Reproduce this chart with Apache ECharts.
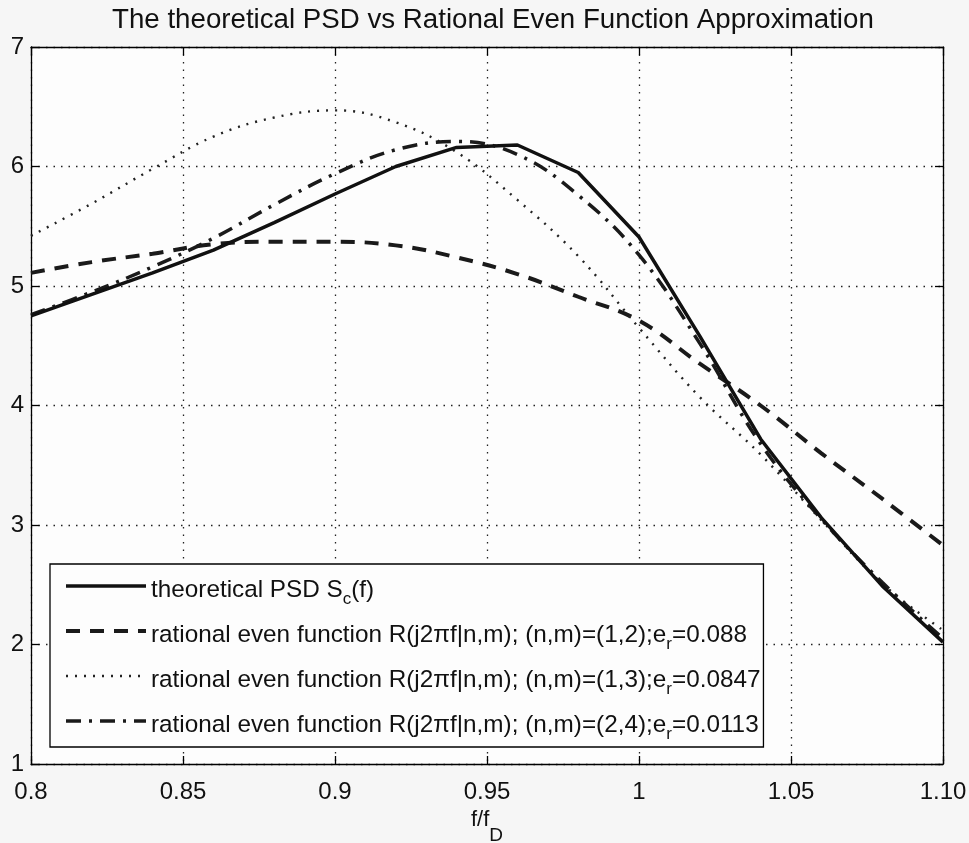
<!DOCTYPE html>
<html>
<head>
<meta charset="utf-8">
<script src="https://cdn.jsdelivr.net/npm/echarts@6/dist/echarts.min.js"></script>
<style>
html,body{margin:0;padding:0;background:#f6f6f6;}
#chart{width:969px;height:843px;}
</style>
</head>
<body>
<div id="chart"></div>
<script>
// ---- data ----
var freq = [0.80, 0.82, 0.84, 0.86, 0.88, 0.90, 0.92, 0.94, 0.96, 0.98, 1.00, 1.02, 1.04, 1.06, 1.08, 1.10];
var theoretical = [4.75, 4.93, 5.11, 5.30, 5.53, 5.77, 6.00, 6.16, 6.18, 5.95, 5.41, 4.58, 3.72, 3.06, 2.49, 2.02];
var rational12 = [5.11, 5.20, 5.27, 5.35, 5.37, 5.37, 5.34, 5.24, 5.10, 4.91, 4.71, 4.35, 4.00, 3.60, 3.22, 2.83];
var rational13 = [5.42, 5.69, 5.98, 6.25, 6.41, 6.47, 6.37, 6.12, 5.72, 5.25, 4.65, 4.07, 3.59, 3.04, 2.51, 2.12];
var rational24 = [4.76, 4.95, 5.16, 5.40, 5.68, 5.94, 6.14, 6.21, 6.10, 5.76, 5.26, 4.52, 3.68, 3.05, 2.52, 2.05];
var xTickLabels = ['0.8', '0.85', '0.9', '0.95', '1', '1.05', '1.10'];
var yTickLabels = ['1', '2', '3', '4', '5', '6', '7'];
var seriesNames = [
  'theoretical PSD S_c(f)',
  'rational even function R(j2\u03c0f|n,m); (n,m)=(1,2);e_r=0.088',
  'rational even function R(j2\u03c0f|n,m); (n,m)=(1,3);e_r=0.0847',
  'rational even function R(j2\u03c0f|n,m); (n,m)=(2,4);e_r=0.0113'
];
var titleText = 'The theoretical PSD vs Rational Even Function Approximation';

function pairs(ys) { return freq.map(function (f, i) { return [f, ys[i]]; }); }

// turn "X_y" into rich text with subscript
function richSub(s) {
  var out = '';
  var parts = s.split(/_(.)/);
  for (var i = 0; i < parts.length; i++) {
    if (i % 2 === 0) { if (parts[i]) out += '{n|' + parts[i] + '}'; }
    else out += '{s|' + parts[i] + '}';
  }
  return out;
}

var FONT = 'Liberation Sans, Arial, Helvetica, sans-serif';
var richStyles = {
  n: { fontSize: 24.3, fontFamily: FONT, color: '#111', verticalAlign: 'top', lineHeight: 26, padding: [5, 0, 0, 0] },
  s: { fontSize: 17, fontFamily: FONT, color: '#111', verticalAlign: 'top', padding: [18, 0, 0, 0], lineHeight: 14 }
};

var styles = [
  { color: '#111', width: 3.5, type: 'solid' },
  { color: '#1a1a1a', width: 4, type: [14, 10] },
  { color: '#222', width: 2.4, type: [2, 7] },
  { color: '#1a1a1a', width: 3.5, type: [15, 8, 3, 8] }
];

var chart = echarts.init(document.getElementById('chart'), null, { renderer: 'canvas' });

var axisLineStyle = { color: '#000', width: 1.3 };

var option = {
  backgroundColor: '#f6f6f6',
  animation: false,
  title: {
    text: titleText,
    left: 107,
    top: 1,
    textStyle: { fontFamily: FONT, fontSize: 27.7, fontWeight: 'normal', color: '#111' }
  },
  grid: {
    left: 31, right: 26, top: 47, bottom: 79, show: true,
    backgroundColor: '#fdfdfd', borderWidth: 0,
    containLabel: false, outerBoundsMode: 'none'
  },
  legend: {
    orient: 'vertical',
    left: 50,
    top: 564,
    itemWidth: 80,
    itemHeight: 20,
    itemGap: 10,
    padding: [9, 3, 4, 14],
    backgroundColor: '#fdfdfd',
    borderColor: '#000',
    borderWidth: 1.3,
    borderRadius: 0,
    itemStyle: { opacity: 0 },
    data: seriesNames.map(function (n, i) {
      return { name: n, lineStyle: styles[i], itemStyle: { opacity: 0, borderWidth: 0 } };
    }),
    formatter: function (name) { return richSub(name); },
    textStyle: { fontFamily: FONT, fontSize: 24.3, color: '#111', rich: richStyles }
  },
  xAxis: [{
    type: 'value', min: 0.8, max: 1.1, interval: 0.05,
    position: 'bottom',
    name: '{n|f/f}{s|D}',
    nameLocation: 'middle',
    nameGap: 34,
    nameTextStyle: { rich: {
      n: { fontSize: 22, fontFamily: FONT, color: '#111', verticalAlign: 'top', lineHeight: 24 },
      s: { fontSize: 19, fontFamily: FONT, color: '#111', verticalAlign: 'top', padding: [17, 0, 0, 0], lineHeight: 19 }
    } },
    axisLine: { show: true, onZero: false, lineStyle: axisLineStyle },
    axisTick: { show: true, inside: true, length: 8, lineStyle: axisLineStyle },
    axisLabel: {
      fontFamily: FONT, fontSize: 24, color: '#111', margin: 16,
      formatter: function (v) { return xTickLabels[Math.round((v - 0.8) / 0.05)]; }
    },
    splitLine: { show: true, lineStyle: { color: '#222', width: 1.3, type: [1.5, 6] } }
  }, {
    type: 'value', min: 0.8, max: 1.1, interval: 0.05,
    position: 'top',
    axisLine: { show: true, onZero: false, lineStyle: axisLineStyle },
    axisTick: { show: true, inside: true, length: 8, lineStyle: axisLineStyle },
    axisLabel: { show: false },
    splitLine: { show: false }
  }],
  yAxis: [{
    type: 'value', min: 1, max: 7, interval: 1,
    position: 'left',
    axisLine: { show: true, onZero: false, lineStyle: axisLineStyle },
    axisTick: { show: true, inside: true, length: 8, lineStyle: axisLineStyle },
    axisLabel: {
      fontFamily: FONT, fontSize: 24, color: '#111', margin: 7,
      formatter: function (v) { return yTickLabels[Math.round(v - 1)]; }
    },
    splitLine: { show: true, lineStyle: { color: '#222', width: 1.3, type: [1.5, 6] } }
  }, {
    type: 'value', min: 1, max: 7, interval: 1,
    position: 'right',
    axisLine: { show: true, onZero: false, lineStyle: axisLineStyle },
    axisTick: { show: true, inside: true, length: 8, lineStyle: axisLineStyle },
    axisLabel: { show: false },
    splitLine: { show: false }
  }],
  series: [{
    name: seriesNames[0], type: 'line', data: pairs(theoretical),
    symbol: 'none', smooth: false,
    lineStyle: styles[0], itemStyle: { color: styles[0].color }, z: 5
  }, {
    name: seriesNames[1], type: 'line', data: pairs(rational12),
    symbol: 'none', smooth: 0.4,
    lineStyle: styles[1], itemStyle: { color: styles[1].color }
  }, {
    name: seriesNames[2], type: 'line', data: pairs(rational13),
    symbol: 'none', smooth: 0.4,
    lineStyle: styles[2], itemStyle: { color: styles[2].color }
  }, {
    name: seriesNames[3], type: 'line', data: pairs(rational24),
    symbol: 'none', smooth: 0.4,
    lineStyle: styles[3], itemStyle: { color: styles[3].color }
  }]
};
chart.setOption(option);
</script>
</body>
</html>
